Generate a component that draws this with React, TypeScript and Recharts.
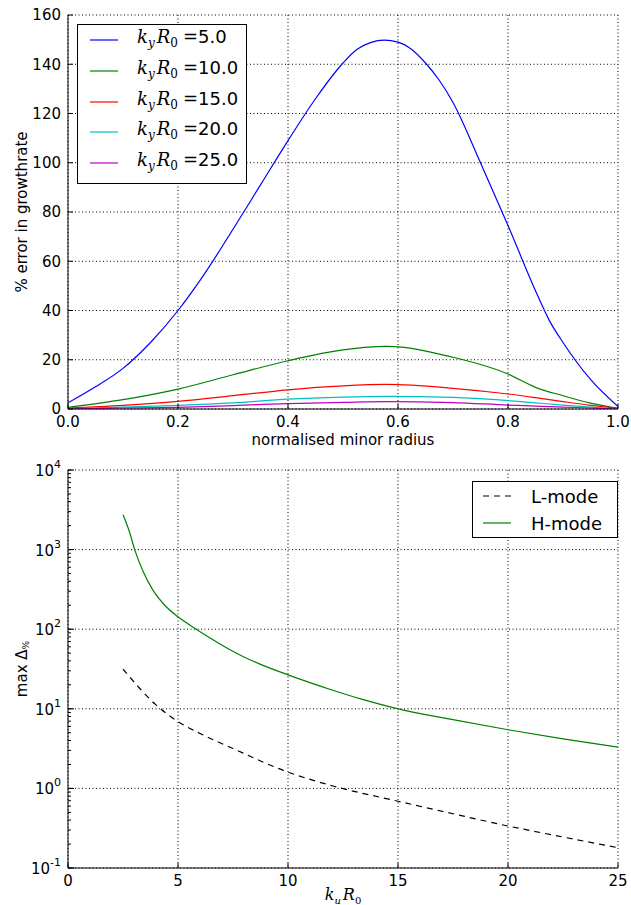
import React from "react";
import { LineChart, Line, XAxis, YAxis, CartesianGrid, Legend } from "recharts";

const FONT = "'DejaVu Sans', sans-serif";
const MATH = "'DejaVu Serif', serif";

// top panel: % error in growthrate against normalised minor radius
const radiusK5 = [0, 0.05, 0.1, 0.15, 0.2, 0.25, 0.3, 0.35, 0.4, 0.45, 0.5, 0.525, 0.55, 0.575, 0.6, 0.625, 0.65, 0.675, 0.7, 0.75, 0.8, 0.85, 0.875, 0.9, 0.95, 1.0];
const errorK5 = [2.5, 9, 16.5, 27, 40, 55.5, 73, 91, 109, 126, 140.5, 146, 148.8, 149.8, 149, 146, 140.5, 133.5, 124.5, 100, 74.5, 48, 36, 27, 12, 1];
const radius = [0, 0.1, 0.2, 0.3, 0.4, 0.5, 0.58, 0.7, 0.8, 0.85, 0.9, 0.95, 1.0];
const errorK10 = [0.7, 3.8, 8.1, 13.9, 19.6, 24, 25.4, 21, 14.2, 8.8, 5.4, 2.4, 0.3];
const errorK15 = [0.4, 1.5, 3.1, 5.4, 7.8, 9.4, 10, 8.4, 6.1, 4.6, 3, 1.5, 0.3];
const errorK20 = [0.1, 0.8, 1.5, 2.5, 4.0, 4.8, 5.1, 4.7, 3.4, 2.5, 1.6, 0.8, 0];
const errorK25 = [0, 0.4, 0.7, 1.4, 2.2, 2.7, 3.0, 2.6, 1.6, 1.2, 0.8, 0.4, 0];
const radiusTicks = [0, 0.2, 0.4, 0.6, 0.8, 1.0];
const errorTicks = [0, 20, 40, 60, 80, 100, 120, 140, 160];
const kyLabels = ["5.0", "10.0", "15.0", "20.0", "25.0"];
const kyColors = ["#0000ff", "#008000", "#ff0000", "#00bfbf", "#bf00bf"];

// bottom panel: max delta against k R0
const lModeK = [2.5, 4, 5, 6, 7.5, 10, 12, 15, 17.5, 20, 22.5, 25];
const lModeMax = [31.6, 11.2, 6.9, 4.9, 3.17, 1.6, 1.08, 0.69, 0.48, 0.337, 0.245, 0.18];
const hModeK = [2.5, 2.8, 3.03, 3.4, 3.86, 4.4, 5, 5.83, 6.44, 7.2, 7.95, 8.7, 10, 11, 12, 13.3, 15, 17.5, 20, 22.5, 25];
const hModeMax = [2740, 1650, 1000, 542, 310, 200, 143, 100, 78, 58.5, 45.5, 36.7, 26.7, 21.3, 17.2, 13.3, 10, 7.3, 5.46, 4.2, 3.3];
const kTicks = [0, 5, 10, 15, 20, 25];
const decadeTicks = [0.1, 1, 10, 100, 1000, 10000];
const logTicks = decadeTicks.flatMap((d, i) =>
  i === decadeTicks.length - 1 ? [d] : [1, 2, 3, 4, 5, 6, 7, 8, 9].map((m) => +(m * d).toPrecision(3))
);

const pts = (xs: number[], ys: number[]) => xs.map((x, i) => ({ x, y: ys[i] }));
const topSeries = [
  pts(radiusK5, errorK5),
  pts(radius, errorK10),
  pts(radius, errorK15),
  pts(radius, errorK20),
  pts(radius, errorK25),
];

const tickStyle = { fill: "#000", fontSize: 15, fontFamily: FONT };

const isDecade = (v: number) => Math.abs(Math.log10(v) - Math.round(Math.log10(v))) < 1e-6;

function LogTickLeft(props: any) {
  const { x, y, payload } = props;
  if (!isDecade(payload.value)) return null;
  const exp = Math.round(Math.log10(payload.value));
  return (
    <g>
      <line x1={x + 7} x2={x + 13} y1={y} y2={y} stroke="#000" />
      <text x={x} y={y} dy={6} textAnchor="end" fontSize={15} fontFamily={FONT} fill="#000">
        10<tspan dy={-8} fontSize={11}>{exp}</tspan>
      </text>
    </g>
  );
}

function LogTickRight(props: any) {
  const { x, y, payload } = props;
  if (!isDecade(payload.value)) return null;
  return <line x1={x - 3} x2={x + 3} y1={y} y2={y} stroke="#000" />;
}

function TopYTitle(props: any) {
  const vb = props.viewBox;
  const cx = vb.x + 14;
  const cy = vb.y + vb.height / 2;
  return (
    <text x={cx} y={cy} transform={`rotate(-90 ${cx} ${cy})`} textAnchor="middle" dominantBaseline="central" fontSize={15} fontFamily={FONT} fill="#000">
      % error in growthrate
    </text>
  );
}

function TopXTitle(props: any) {
  const vb = props.viewBox;
  return (
    <text x={vb.x + vb.width / 2} y={vb.y + 36} textAnchor="middle" fontSize={15} fontFamily={FONT} fill="#000">
      normalised minor radius
    </text>
  );
}

function BottomYTitle(props: any) {
  const vb = props.viewBox;
  const cx = vb.x + 14;
  const cy = vb.y + vb.height / 2;
  return (
    <text x={cx} y={cy} transform={`rotate(-90 ${cx} ${cy})`} textAnchor="middle" dominantBaseline="central" fontSize={15} fontFamily={FONT} fill="#000">
      max Δ<tspan dy={4} fontSize={9}>%</tspan>
    </text>
  );
}

function BottomXTitle(props: any) {
  const vb = props.viewBox;
  return (
    <text x={vb.x + vb.width / 2} y={vb.y + 32} textAnchor="middle" fontSize={16} fontFamily={MATH} fill="#000">
      <tspan fontStyle="italic">k</tspan>
      <tspan dy={4} fontSize={10} fontStyle="italic">u</tspan>
      <tspan dy={-4} dx={2} fontStyle="italic">R</tspan>
      <tspan dy={4} fontSize={10}>0</tspan>
    </text>
  );
}

function KyLegend() {
  return (
    <div style={{ width: 170, height: 160, boxSizing: "border-box", border: "1px solid #000", background: "#fff", position: "relative" }}>
      {kyLabels.map((lab, i) => (
        <div key={lab} style={{ position: "absolute", left: 0, top: 1 + i * 30.8, height: 28, display: "flex", alignItems: "center", whiteSpace: "nowrap" }}>
          <svg width={40} height={4} style={{ marginLeft: 12 }}>
            <line x1={0} x2={28} y1={2} y2={2} stroke={kyColors[i]} strokeWidth={1.2} />
          </svg>
          <span style={{ marginLeft: 7, fontSize: 18, fontFamily: MATH, lineHeight: "18px" }}>
            <i>k</i>
            <sub style={{ fontSize: 12, fontStyle: "italic", verticalAlign: -4 }}>y</sub>
            <i style={{ marginLeft: 2 }}>R</i>
            <sub style={{ fontSize: 12, verticalAlign: -4 }}>0</sub>
            <span style={{ marginLeft: 5 }}>=</span>
            <span style={{ fontFamily: FONT }}>{lab}</span>
          </span>
        </div>
      ))}
    </div>
  );
}

function ModeLegend() {
  const rows = [
    { name: "L-mode", color: "#000", dash: true },
    { name: "H-mode", color: "#008000", dash: false },
  ];
  return (
    <div style={{ width: 146, height: 57, boxSizing: "border-box", border: "1px solid #000", background: "#fff", position: "relative" }}>
      {rows.map((r, i) => (
        <div key={r.name} style={{ position: "absolute", left: 0, top: 0 + i * 27, height: 28, display: "flex", alignItems: "center", whiteSpace: "nowrap" }}>
          <svg width={40} height={4} style={{ marginLeft: 10 }}>
            <line x1={0} x2={28} y1={2} y2={2} stroke={r.color} strokeWidth={1.2} strokeDasharray={r.dash ? "6 5" : undefined} />
          </svg>
          <span style={{ marginLeft: 8, fontSize: 18, fontFamily: FONT }}>{r.name}</span>
        </div>
      ))}
    </div>
  );
}

export default function App() {
  return (
    <div style={{ position: "absolute", left: 0, top: 0, width: 631, height: 905, background: "#fff" }}>
      <LineChart width={631} height={450} margin={{ top: 15, right: 13, bottom: 11, left: 8 }}>
        <CartesianGrid xAxisId="b" yAxisId="l" stroke="#000" strokeDasharray="1 2.5" />
        <XAxis xAxisId="b" dataKey="x" type="number" domain={[0, 1]} allowDataOverflow ticks={radiusTicks} interval={0}
          tickFormatter={(v: number) => v.toFixed(1)} height={30} tickSize={-5} tickMargin={12} stroke="#000" tick={tickStyle}
          label={TopXTitle} />
        <XAxis xAxisId="t" orientation="top" dataKey="x" type="number" domain={[0, 1]} allowDataOverflow ticks={radiusTicks} interval={0}
          height={0} tick={false} tickSize={-5} stroke="#000" />
        <YAxis yAxisId="l" type="number" domain={[0, 160]} allowDataOverflow ticks={errorTicks} interval={0}
          width={60} tickSize={-5} tickMargin={12} stroke="#000" tick={tickStyle} label={TopYTitle} />
        <YAxis yAxisId="r" orientation="right" type="number" domain={[0, 160]} allowDataOverflow ticks={errorTicks} interval={0}
          width={0} tick={false} tickSize={-5} stroke="#000" />
        {topSeries.map((d, i) => (
          <Line key={kyLabels[i]} xAxisId="b" yAxisId="l" data={d} dataKey="y" type="monotone"
            stroke={kyColors[i]} strokeWidth={1.2} dot={false} activeDot={false} isAnimationActive={false} />
        ))}
        <Legend layout="horizontal" align="center" verticalAlign="middle" content={() => <KyLegend />}
          wrapperStyle={{ left: 77, top: 24, width: 170, height: 160 }} />
      </LineChart>
      <LineChart width={631} height={455} margin={{ top: 20, right: 13, bottom: 7, left: 8 }}>
        <CartesianGrid xAxisId="b" yAxisId="l" stroke="#000" strokeDasharray="1 2.5" horizontalValues={decadeTicks} />
        <XAxis xAxisId="b" dataKey="x" type="number" domain={[0, 25]} allowDataOverflow ticks={kTicks} interval={0}
          height={30} tickSize={-5} tickMargin={12} stroke="#000" tick={tickStyle} label={BottomXTitle} />
        <XAxis xAxisId="t" orientation="top" dataKey="x" type="number" domain={[0, 25]} allowDataOverflow ticks={kTicks} interval={0}
          height={0} tick={false} tickSize={-5} stroke="#000" />
        <YAxis yAxisId="l" type="number" scale="log" domain={[0.1, 10000]} allowDataOverflow ticks={logTicks} interval={0}
          width={60} tickSize={-3} tickMargin={10} stroke="#000" tick={<LogTickLeft />} label={BottomYTitle} />
        <YAxis yAxisId="r" orientation="right" type="number" scale="log" domain={[0.1, 10000]} allowDataOverflow ticks={logTicks} interval={0}
          width={0} tickSize={-3} tickMargin={0} stroke="#000" tick={<LogTickRight />} />
        <Line xAxisId="b" yAxisId="l" data={pts(lModeK, lModeMax)} dataKey="y" type="monotone" stroke="#000" strokeWidth={1.2}
          strokeDasharray="6 5" dot={false} activeDot={false} isAnimationActive={false} />
        <Line xAxisId="b" yAxisId="l" data={pts(hModeK, hModeMax)} dataKey="y" type="monotone" stroke="#008000" strokeWidth={1.2}
          dot={false} activeDot={false} isAnimationActive={false} />
        <Legend layout="horizontal" align="center" verticalAlign="middle" content={() => <ModeLegend />}
          wrapperStyle={{ left: 472, top: 31, width: 146, height: 57 }} />
      </LineChart>
    </div>
  );
}
